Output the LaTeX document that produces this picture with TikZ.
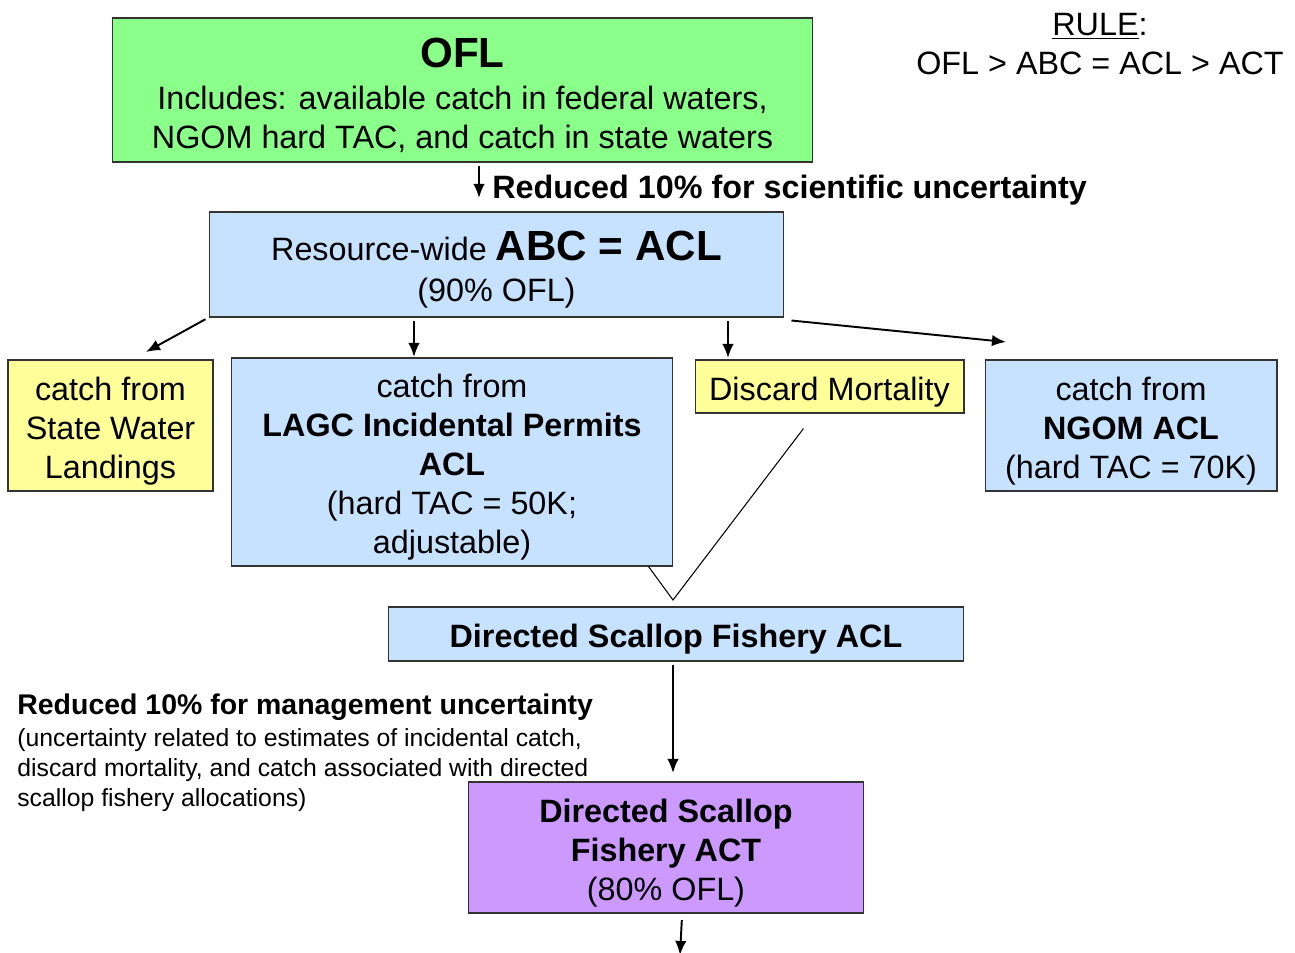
\documentclass[tikz,border=0pt]{standalone}
\usepackage{fontspec}
\setmainfont{Liberation Sans}
\usepackage{tikz}
\usetikzlibrary{arrows.meta}
\definecolor{oflgreen}{RGB}{138,255,138}
\definecolor{aclblue}{RGB}{198,226,255}
\definecolor{catchyellow}{RGB}{255,255,153}
\definecolor{actpurple}{RGB}{204,153,255}
\newcommand{\boxstrut}{\rule{0pt}{19.5pt}}

\begin{document}
\begin{tikzpicture}[x=0.02cm, y=-0.02cm,
  box/.style={draw=black!80, line width=0.6pt, align=center, inner sep=0pt,
    font=\fontsize{18.4}{22.2}\selectfont, execute at begin node={\boxstrut}},
  remark/.style={inner sep=0pt, font=\fontsize{18.4}{22.2}\selectfont},
  link/.style={-{Latex[length=8pt,width=6.5pt]}, line width=1.1pt, shorten <=2pt},
  merge/.style={line width=0.6pt}]
  \useasboundingbox (0,0) rectangle (1295,953);

  % boxes
  \node[box, fill=oflgreen, minimum width=14.02cm, minimum height=2.88cm] (ofl) at (462.5,90)
    {\rule{0pt}{23pt}{\fontsize{24}{26}\selectfont\bfseries OFL}\\[2pt]
     Includes: available catch in federal waters,\\
     NGOM hard TAC, and catch in state waters};
  \node[box, fill=aclblue, minimum width=11.5cm, minimum height=2.1cm] (abc) at (496.5,264.5)
    {\rule{0pt}{23pt}Resource-wide {\fontsize{24}{26}\selectfont\bfseries ABC = ACL}\\[1pt] (90\% OFL)};
  \node[box, fill=catchyellow, minimum width=4.1cm, minimum height=2.62cm] (state) at (110.5,425.5)
    {\boxstrut catch from\\ State Water\\ Landings};
  \node[box, fill=aclblue, minimum width=8.84cm, minimum height=4.16cm] (lagc) at (452,462)
    {\boxstrut catch from\\ \textbf{LAGC Incidental Permits}\\ \textbf{ACL}\\ (hard TAC = 50K;\\ adjustable)};
  \node[box, fill=catchyellow, minimum width=5.38cm, minimum height=1.06cm] (discard) at (829.5,386.5)
    {Discard Mortality};
  \node[box, fill=aclblue, minimum width=5.84cm, minimum height=2.62cm] (ngom) at (1131,425.5)
    {\boxstrut catch from\\ \textbf{NGOM ACL}\\ (hard TAC = 70K)};
  \node[box, fill=aclblue, minimum width=11.52cm, minimum height=1.08cm] (dacl) at (676,634)
    {\textbf{Directed Scallop Fishery ACL}};
  \node[box, fill=actpurple, minimum width=7.92cm, minimum height=2.62cm] (act) at (666,847.5)
    {\boxstrut\textbf{Directed Scallop}\\ \textbf{Fishery ACT}\\ (80\% OFL)};

  % texts
  \node[remark, align=center] (rule) at (1100,44) {\underline{RULE}:\\ OFL > ABC = ACL > ACT};
  \node[remark, anchor=west] (sci) at (492,190) {\textbf{Reduced 10\% for scientific uncertainty}};
  \node[remark, anchor=north west, align=left, font=\fontsize{14.1}{17}\selectfont] (mgmt) at (17,694)
    {{\fontsize{16.2}{19}\selectfont\bfseries Reduced 10\% for management uncertainty}\\[1pt]
     (uncertainty related to estimates of incidental catch,\\
     discard mortality, and catch associated with directed\\
     scallop fishery allocations)};

  % arrow ends
  \coordinate (t1) at (479,198);
  \coordinate (s1) at (146,352);
  \coordinate (l1) at (414,357);
  \coordinate (d1) at (728,358);
  \coordinate (n0) at ([shift={(7,3)}]abc.south east);
  \coordinate (n1) at (1006,342);
  \coordinate (v) at (673,600);
  \coordinate (a1) at (673,773);
  \coordinate (o1) at (680,955);

  \draw[link] (ofl.south -| t1) -- (t1);
  \draw[link] (abc.south west) -- (s1);
  \draw[link] (abc.south -| l1) -- (l1);
  \draw[link] (abc.south -| d1) -- (d1);
  \draw[link, shorten <=0pt] (n0) -- (n1);
  \draw[merge] ([shift={(-25,0)}]lagc.south east) -- (v) -- ([shift={(-26,15)}]discard.south);
  \draw[link] (dacl.south -| a1) -- (a1);
  \draw[link] ([shift={(16,3)}]act.south) -- (o1);
\end{tikzpicture}
\end{document}
